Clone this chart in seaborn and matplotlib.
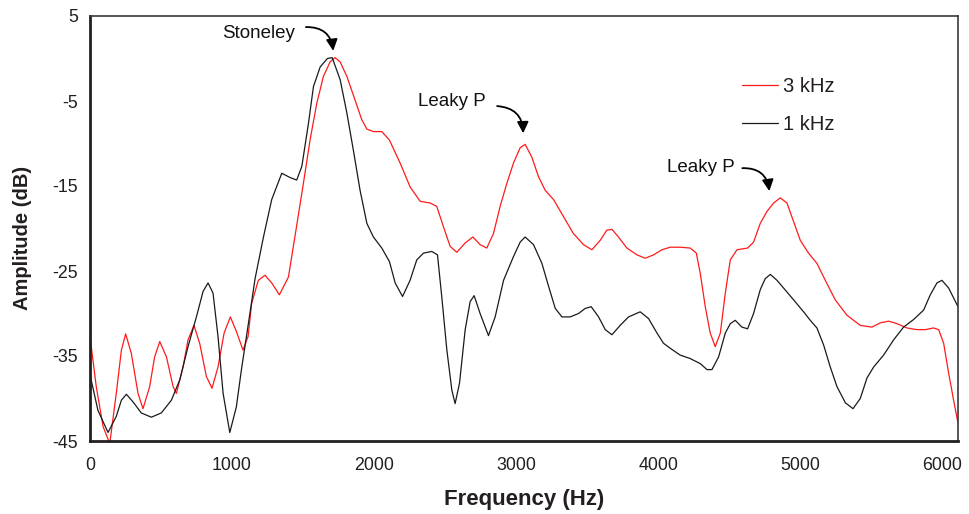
import numpy as np
import pandas as pd
import matplotlib
matplotlib.use("Agg")
import matplotlib.pyplot as plt
import seaborn as sns

# Amplitude spectra (frequency in Hz, amplitude in dB)
freq_3k = [0, 44, 92, 139, 185, 221, 251, 291, 338, 373, 420, 455, 491, 538, 585, 608,
           655, 690, 732, 772, 819, 859, 901, 944, 988, 1030, 1077, 1113, 1138, 1185,
           1232, 1279, 1333, 1397, 1444, 1502, 1549, 1596, 1643, 1690, 1725, 1761,
           1808, 1866, 1913, 1949, 1995, 2054, 2108, 2183, 2253, 2324, 2394, 2441,
           2488, 2535, 2582, 2641, 2695, 2746, 2793, 2840, 2887, 2934, 2981, 3028,
           3063, 3110, 3157, 3204, 3263, 3333, 3403, 3474, 3533, 3591, 3638, 3674,
           3720, 3779, 3850, 3908, 3967, 4026, 4085, 4155, 4225, 4268, 4296, 4331,
           4366, 4401, 4437, 4472, 4507, 4554, 4629, 4671, 4718, 4765, 4812, 4859,
           4906, 4953, 5000, 5058, 5117, 5176, 5246, 5328, 5422, 5504, 5563, 5622,
           5681, 5751, 5822, 5880, 5938, 5974, 6009, 6044, 6079, 6110]
amp_3k = [-32.7, -38.6, -43.3, -45.3, -39.4, -34.3, -32.4, -34.7, -39.4, -41.2, -38.6,
          -35.1, -33.3, -35.1, -38.6, -39.4, -36.3, -33.1, -31.4, -33.5, -37.4, -38.8,
          -36.3, -32.3, -30.4, -32.1, -34.3, -32.7, -28.8, -26.1, -25.5, -26.4, -27.8,
          -25.7, -20.8, -14.7, -9.6, -5.3, -2.1, -0.4, 0.1, -0.4, -2.1, -4.9, -7.2,
          -8.3, -8.6, -8.6, -9.6, -12.3, -15.1, -16.8, -17.0, -17.4, -19.8, -22.1,
          -22.8, -21.7, -21.0, -21.9, -22.3, -20.6, -17.4, -14.7, -12.3, -10.5, -10.1,
          -11.6, -13.9, -15.5, -16.6, -18.6, -20.6, -21.9, -22.5, -21.4, -20.2, -20.1,
          -21.0, -22.3, -23.1, -23.5, -23.1, -22.5, -22.2, -22.2, -22.3, -22.9, -25.3,
          -29.2, -32.3, -33.9, -32.3, -27.6, -23.7, -22.5, -22.3, -21.6, -19.4, -18.0,
          -17.0, -16.4, -17.0, -19.2, -21.4, -22.9, -24.1, -26.1, -28.4, -30.2, -31.4,
          -31.6, -31.1, -30.9, -31.2, -31.7, -31.9, -31.9, -31.7, -31.9, -33.5, -37.0,
          -40.2, -42.9]

freq_1k = [0, 56, 127, 185, 221, 256, 303, 361, 432, 502, 573, 632, 690, 749, 796, 831,
           866, 901, 937, 984, 1030, 1066, 1113, 1162, 1221, 1279, 1350, 1408, 1455,
           1491, 1538, 1573, 1620, 1671, 1705, 1761, 1808, 1854, 1901, 1949, 1995,
           2054, 2108, 2148, 2200, 2253, 2300, 2347, 2406, 2446, 2476, 2512, 2547,
           2570, 2601, 2641, 2676, 2704, 2746, 2805, 2852, 2911, 2981, 3028, 3063,
           3122, 3181, 3228, 3275, 3322, 3380, 3439, 3486, 3528, 3580, 3627, 3674,
           3732, 3791, 3873, 3932, 3991, 4037, 4085, 4155, 4225, 4296, 4343, 4378,
           4425, 4472, 4507, 4542, 4589, 4629, 4671, 4718, 4753, 4789, 4836, 4882,
           4953, 5023, 5070, 5117, 5164, 5211, 5258, 5317, 5371, 5422, 5469, 5516,
           5586, 5657, 5727, 5798, 5868, 5915, 5962, 5997, 6044, 6110]
amp_1k = [-37.2, -41.4, -44.0, -42.1, -40.2, -39.5, -40.4, -41.7, -42.2, -41.7, -40.2,
          -37.8, -33.9, -30.4, -27.4, -26.4, -27.6, -32.7, -39.4, -44.0, -41.0, -36.6,
          -31.4, -25.9, -21.0, -16.6, -13.5, -14.0, -14.3, -12.7, -7.6, -3.3, -1.0,
          0.0, 0.1, -2.5, -6.4, -10.8, -15.5, -19.4, -21.0, -22.3, -23.9, -26.4,
          -28.0, -26.1, -23.7, -22.9, -22.7, -23.1, -28.0, -34.3, -39.0, -40.6,
          -38.2, -31.9, -28.6, -27.9, -30.0, -32.6, -30.4, -26.1, -23.3, -21.6,
          -21.0, -21.9, -24.1, -26.8, -29.4, -30.4, -30.4, -30.0, -29.4, -29.2,
          -30.4, -31.9, -32.5, -31.4, -30.4, -29.8, -30.6, -32.3, -33.5, -34.1,
          -34.9, -35.3, -35.9, -36.6, -36.6, -35.1, -32.3, -31.2, -30.8, -31.6,
          -31.8, -30.0, -27.2, -25.9, -25.4, -26.1, -27.0, -28.4, -29.8, -30.8,
          -31.7, -33.7, -36.3, -38.6, -40.5, -41.2, -40.0, -37.6, -36.3, -34.9,
          -33.1, -31.6, -30.7, -29.6, -27.8, -26.4, -26.1, -27.0, -29.2]

series_names = ["3 kHz", "1 kHz"]
series_colors = ["#ff1a1a", "#1a1a1a"]

x_ticks = [0, 1000, 2000, 3000, 4000, 5000, 6000]
y_ticks = [5, -5, -15, -25, -35, -45]

df = pd.concat([
    pd.DataFrame({"Frequency": freq_3k, "Amplitude": amp_3k, "Source": series_names[0]}),
    pd.DataFrame({"Frequency": freq_1k, "Amplitude": amp_1k, "Source": series_names[1]}),
], ignore_index=True)

sns.set_theme(style="white")
plt.rcParams["font.family"] = ["Liberation Sans", "DejaVu Sans"]
plt.rcParams["axes.unicode_minus"] = False

fig = plt.figure(figsize=(9.69, 5.14), dpi=100)
ax = fig.add_axes([90 / 969, 1 - 441 / 514, 868 / 969, 425 / 514])

sns.lineplot(data=df, x="Frequency", y="Amplitude", hue="Source",
             hue_order=series_names, palette=series_colors, linewidth=0.9,
             sort=False, estimator=None, ax=ax, legend=True,
             solid_joinstyle="round", solid_capstyle="round")

ax.set_xlim(0, 6110)
ax.set_ylim(-45, 5)
ax.set_xticks(x_ticks)
ax.set_yticks(y_ticks)
ax.tick_params(axis="both", direction="inout", length=9, width=1.3,
               color="#231f20", labelsize=12.8, labelcolor="#231f20")
ax.tick_params(axis="x", pad=7)
ax.tick_params(axis="y", pad=4)

for side in ("left", "bottom"):
    ax.spines[side].set_linewidth(2.0)
    ax.spines[side].set_color("#231f20")
for side in ("top", "right"):
    ax.spines[side].set_linewidth(1.2)
    ax.spines[side].set_color("#3a3a3a")

ax.set_xlabel("Frequency (Hz)", fontsize=16, fontweight="bold", color="#231f20")
ax.set_ylabel("Amplitude (dB)", fontsize=14.5, fontweight="bold", color="#231f20")
ax.xaxis.set_label_coords(0.5, -0.113)
ax.yaxis.set_label_coords(-0.067, 0.478)

leg = ax.legend(loc="upper left", bbox_to_anchor=(0.73, 0.90), frameon=False,
                fontsize=14.5, handlelength=1.8, handletextpad=0.25, labelspacing=0.95)
for text in leg.get_texts():
    text.set_color("#231f20")

# Peak labels with curved arrows
arrow_style = dict(arrowstyle="-|>", color="black", lw=1.3, shrinkA=0, shrinkB=0,
                   mutation_scale=17, connectionstyle="arc3,rad=-0.45")
label_font = dict(fontsize=13.5, ha="center", va="center", color="#111111")

ax.annotate("", xy=(1712, 0.9), xytext=(1520, 3.7), arrowprops=arrow_style)
ax.text(1185, 3.0, "Stoneley", **label_font)

ax.annotate("", xy=(3049, -8.8), xytext=(2866, -5.6), arrowprops=arrow_style)
ax.text(2550, -5.0, "Leaky P", **label_font)

ax.annotate("", xy=(4782, -15.6), xytext=(4592, -12.9), arrowprops=arrow_style)
ax.text(4300, -12.8, "Leaky P", **label_font)

fig.savefig("out.png", dpi=100)
